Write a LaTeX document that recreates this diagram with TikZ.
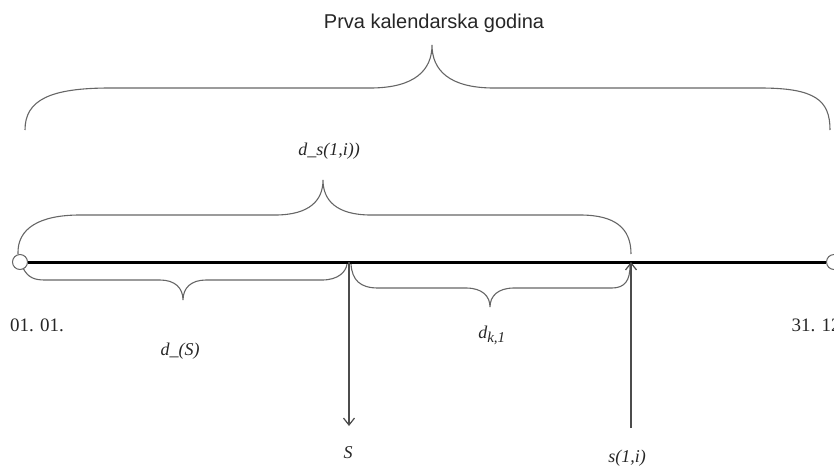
\documentclass[tikz,border=0pt]{standalone}
\usepackage{fontspec}
\setmainfont{Liberation Serif}
\newfontfamily\labsans{Liberation Sans}
\usetikzlibrary{arrows.meta}
\begin{document}
\begin{tikzpicture}[x=1pt,y=-1pt,
  bracestyle/.style={draw=black!60,line width=1.1pt},
  timeline/.style={draw=black,line width=3pt},
  endpt/.style={circle,draw=black!60,fill=white,line width=1pt,minimum size=15pt,inner sep=0pt},
  evarrow/.style={draw=black!70,line width=1.5pt,-{Straight Barb[length=7pt,width=11pt,line width=1.2pt]}},
  serif/.style={font=\fontsize{19}{22}\selectfont,text=black!85,anchor=base},
  ital/.style={font=\fontsize{18}{21}\selectfont\itshape,text=black!85,anchor=base},
  title/.style={font=\labsans\fontsize{20}{24}\selectfont,text=black!85,anchor=base}]
\useasboundingbox (0,0) rectangle (834,469);
% timeline
\node[endpt] (start) at (20,262) {};
\node[endpt] (end) at (834,262) {};
\draw[timeline] (start.east) -- (end.west);
\coordinate (sp) at (349,262);
\coordinate (ip) at (631,262);
\coordinate (sbot) at (349,426);
\coordinate (ibot) at (631,428);
% braces
\draw[bracestyle] (25,130) .. controls (25,100) and (50,88) .. (110,88) -- (370,88)
  .. controls (415,88) and (432,70) .. (432,45)
  .. controls (432,70) and (449,88) .. (494,88) -- (760,88)
  .. controls (815,88) and (830,100) .. (830,130);
\draw[bracestyle] (18,254) .. controls (17,228) and (40,215) .. (80,215) -- (275,215)
  .. controls (310,215) and (323,200) .. (323,180)
  .. controls (323,200) and (336,215) .. (371,215) -- (580,215)
  .. controls (615,215) and (631,228) .. (631,254);
\draw[bracestyle] (23,268) .. controls (28,278) and (35,280) .. (45,280) -- (160,280)
  .. controls (175,280) and (183,288) .. (183,300)
  .. controls (183,288) and (191,280) .. (206,280) -- (322,280)
  .. controls (338,280) and (346,272) .. (347,264);
\draw[bracestyle] (351,264) .. controls (352,280) and (360,288) .. (378,288) -- (466,288)
  .. controls (482,288) and (490,296) .. (490,307)
  .. controls (490,296) and (498,288) .. (514,288) -- (612,288)
  .. controls (625,288) and (630,280) .. (630,266);
% arrows
\draw[evarrow] (sp) -- (sbot);
\draw[evarrow] (ibot) -- (ip);
% labels
\node[title] (tl) at (434,28) {Prva kalendarska godina};
\node[serif] (d1) at (37,331) {01. 01.};
\node[serif,anchor=base west] (d2) at (788,331) {31. 12.};
\node[ital] (ds) at (329,155) {d\_s(1,i))};
\node[ital] (dS) at (180,355) {d\_(S)};
\node[ital] (dk) at (492,338) {d\textsubscript{\fontsize{15}{15}\selectfont k,1}};
\node[ital] (S) at (348,458) {S};
\node[ital] (si) at (627,462) {s(1,i)};
\end{tikzpicture}
\end{document}
